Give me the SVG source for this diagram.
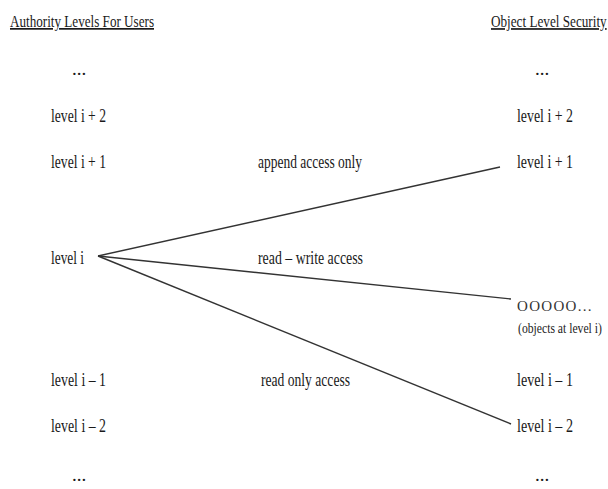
<svg xmlns="http://www.w3.org/2000/svg" width="608" height="489" viewBox="0 0 608 489">
<style>
text{font-family:"Liberation Serif","Times New Roman",serif;font-size:19px;fill:#1a1a1a}
.hd{font-size:17px;text-decoration:underline}
.sm{font-size:14px}
.obj{font-size:15px;letter-spacing:1.3px;fill:#333}
.ln{stroke:#333;stroke-width:1.4;fill:none}
</style>
<rect width="608" height="489" fill="#fff"/>
<g id="header-left"><text class="hd" x="10" y="27" textLength="144" lengthAdjust="spacingAndGlyphs">Authority Levels For Users</text></g>
<g id="header-right"><text class="hd" transform="translate(491,27) scale(0.776,1)">Object Level Security</text></g>
<g id="user-levels">
<text x="72" y="75">...</text>
<text x="51" y="122" textLength="55" lengthAdjust="spacingAndGlyphs">level i + 2</text>
<text x="51" y="168" textLength="55" lengthAdjust="spacingAndGlyphs">level i + 1</text>
<g id="user-level-i"><text x="51" y="264" textLength="33" lengthAdjust="spacingAndGlyphs">level i</text></g>
<text x="51" y="386" textLength="55" lengthAdjust="spacingAndGlyphs">level i – 1</text>
<text x="51" y="432" textLength="55" lengthAdjust="spacingAndGlyphs">level i – 2</text>
<text x="72" y="481">...</text>
</g>
<g id="object-levels">
<text x="535" y="75">...</text>
<text x="517" y="122" textLength="56" lengthAdjust="spacingAndGlyphs">level i + 2</text>
<g id="obj-level-i1"><text x="517" y="168" textLength="56" lengthAdjust="spacingAndGlyphs">level i + 1</text></g>
<g id="obj-level-i"><text class="obj" x="517" y="311">OOOOO...</text>
<text class="sm" transform="translate(518,333) scale(0.834,1)">(objects at level i)</text></g>
<text x="517" y="386" textLength="56" lengthAdjust="spacingAndGlyphs">level i – 1</text>
<g id="obj-level-i2"><text x="517" y="432" textLength="56" lengthAdjust="spacingAndGlyphs">level i – 2</text></g>
<text x="535" y="481">...</text>
</g>
<g id="connectors">
<line class="ln" x1="98" y1="256" x2="500" y2="167"/>
<line class="ln" x1="98" y1="256" x2="511" y2="299"/>
<line class="ln" x1="98" y1="256" x2="511" y2="424"/>
</g>
<g id="labels">
<text x="258" y="168" textLength="104" lengthAdjust="spacingAndGlyphs">append access only</text>
<text x="258" y="264" textLength="105" lengthAdjust="spacingAndGlyphs">read – write access</text>
<text x="261" y="386" textLength="89" lengthAdjust="spacingAndGlyphs">read only access</text>
</g>
</svg>
